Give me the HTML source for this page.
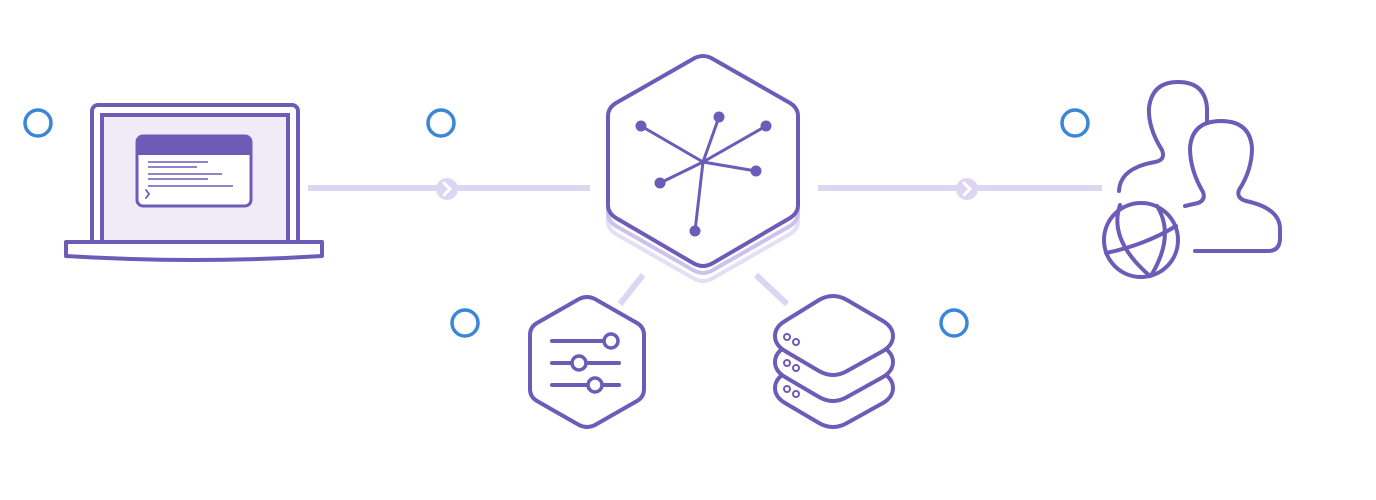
<!DOCTYPE html>
<html><head><meta charset="utf-8"><style>html,body{margin:0;padding:0;background:#fff;}svg{display:block}</style></head>
<body>
<svg width="1376" height="500" viewBox="0 0 1376 500" xmlns="http://www.w3.org/2000/svg">
<defs>
<g id="srv">
<path d="M833,296 Q840,296 847,300 L883,321 Q893,327 893,336 Q893,345 883,351 L847,371 Q840,375 833,375 Q826,375 819,371 L785,351 Q775,345 775,336 Q775,327 785,321 L819,300 Q826,296 833,296 Z" fill="#fff" stroke="#6d5bb8" stroke-width="4" stroke-linejoin="round"/>
<circle cx="787" cy="337" r="3" fill="none" stroke="#6d5bb8" stroke-width="2"/>
<circle cx="796" cy="342" r="3" fill="none" stroke="#6d5bb8" stroke-width="2"/>
</g>
</defs>
<g fill="none" stroke-linecap="round">
<g stroke="#3b86d8" stroke-width="3.5">
<circle cx="38" cy="123" r="13"/><circle cx="441" cy="123" r="13"/><circle cx="1075" cy="123" r="13"/>
<circle cx="465" cy="323" r="13"/><circle cx="954" cy="323" r="13"/>
</g>
<g stroke="#dcd6f2" stroke-width="6" stroke-linecap="butt">
<line x1="308" y1="188" x2="590" y2="188"/>
<line x1="818" y1="188" x2="1102" y2="188"/>
<line x1="643" y1="275" x2="620" y2="304"/>
<line x1="756" y1="275" x2="787" y2="304"/>
</g>
<circle cx="447" cy="189" r="11" fill="#dcd6f2"/>
<circle cx="967" cy="189" r="11" fill="#dcd6f2"/>
<path d="M444,183 L450,189 L444,195 M964,183 L970,189 L964,195" stroke="#fff" stroke-width="3"/>
<rect x="92" y="105" width="206" height="140" rx="6" fill="#fff" stroke="#6d5bb8" stroke-width="4"/>
<rect x="102" y="115" width="186" height="128" fill="#efecf8" stroke="#6d5bb8" stroke-width="4"/>
<path d="M66,242 L322,242 L322,256 Q195,264 66,256 Z" fill="#fff" stroke="#6d5bb8" stroke-width="4" stroke-linejoin="round"/>
<rect x="137" y="136" width="114" height="70" rx="6" fill="#fff" stroke="#6d5bb8" stroke-width="3"/>
<path d="M137,155 L137,142 Q137,136 143,136 L245,136 Q251,136 251,142 L251,155 Z" fill="#6d5bb8"/>
<g stroke="#6d5bb8" stroke-width="1.6" stroke-linecap="butt">
<line x1="148" y1="162" x2="208" y2="162"/><line x1="148" y1="167" x2="197" y2="167"/>
<line x1="148" y1="174" x2="222" y2="174"/><line x1="148" y1="179" x2="208" y2="179"/>
<line x1="148" y1="186" x2="233" y2="186"/>
</g>
<path d="M146,190 L149,194 L146,198" stroke="#6d5bb8" stroke-width="1.8"/>
<path d="M608,130 L608,221 Q608,229 616,234 L693,278 Q698,281 703,281 Q708,281 713,278 L790,234 Q798,229 798,221 L798,130" stroke="#e3dff4" stroke-width="4" stroke-linejoin="round"/>
<path d="M608,122 L608,213 Q608,221 616,226 L693,270 Q698,273 703,273 Q708,273 713,270 L790,226 Q798,221 798,213 L798,122" fill="#fff" stroke="#cbc3ec" stroke-width="4" stroke-linejoin="round"/>
<path d="M703,56 Q708,56 713,59 L790,103 Q798,108 798,116 L798,205 Q798,213 790,218 L713,263 Q708,266 703,266 Q698,266 693,263 L616,218 Q608,213 608,205 L608,116 Q608,108 616,103 L693,59 Q698,56 703,56 Z" fill="#fff" stroke="#6d5bb8" stroke-width="4"/>
<g stroke="#6d5bb8" stroke-width="3">
<line x1="703" y1="162" x2="641" y2="126"/><line x1="703" y1="162" x2="719" y2="117"/>
<line x1="703" y1="162" x2="766" y2="126"/><line x1="703" y1="162" x2="756" y2="171"/>
<line x1="703" y1="162" x2="660" y2="183"/><line x1="703" y1="162" x2="695" y2="231"/>
</g>
<g fill="#6d5bb8">
<circle cx="641" cy="126" r="5.5"/><circle cx="719" cy="117" r="5.5"/><circle cx="766" cy="126" r="5.5"/>
<circle cx="756" cy="171" r="5.5"/><circle cx="660" cy="183" r="5.5"/><circle cx="695" cy="231" r="5.5"/>
</g>
<path d="M587,297 Q591,297 595,299 L637,323 Q644,327 644,335 L644,389 Q644,397 637,401 L595,425 Q591,427 587,427 Q583,427 579,425 L537,401 Q530,397 530,389 L530,335 Q530,327 537,323 L579,299 Q583,297 587,297 Z" fill="#fff" stroke="#6d5bb8" stroke-width="4"/>
<g stroke="#6d5bb8" stroke-width="4">
<line x1="552" y1="341" x2="604" y2="341"/>
<line x1="552" y1="363" x2="572" y2="363"/><line x1="586" y1="363" x2="619" y2="363"/>
<line x1="552" y1="385" x2="588" y2="385"/><line x1="602" y1="385" x2="619" y2="385"/>
</g>
<g stroke="#6d5bb8" stroke-width="3.5" fill="#fff">
<circle cx="611" cy="341" r="7"/><circle cx="579" cy="363" r="7"/><circle cx="595" cy="385" r="7"/>
</g>
<use href="#srv" transform="translate(0,52)"/>
<use href="#srv" transform="translate(0,26)"/>
<use href="#srv"/>
<g stroke="#6d5bb8" stroke-width="4" stroke-linejoin="round">
<path d="M1119,191 Q1120,168 1155,162 Q1166,160 1162,150 Q1148,128 1149,108 Q1152,82 1178,82 Q1205,82 1207,108 L1207,122"/>
<path d="M1185,206 L1198,203 Q1206,200 1203,192 Q1190,170 1190,148 Q1192,121 1221,121 Q1250,121 1252,148 Q1252,170 1239,190 Q1236,198 1246,201 Q1279,208 1280,228 L1280,238 Q1280,251 1268,251 L1195,251"/>
<circle cx="1141" cy="240" r="37" fill="#fff"/>
<path d="M1106,253 Q1145,245 1176,226"/>
<path d="M1120,205 Q1108,240 1150,276"/>
<path d="M1157,206 Q1175,235 1152,274"/>
</g>
</g>
</svg>
</body></html>
